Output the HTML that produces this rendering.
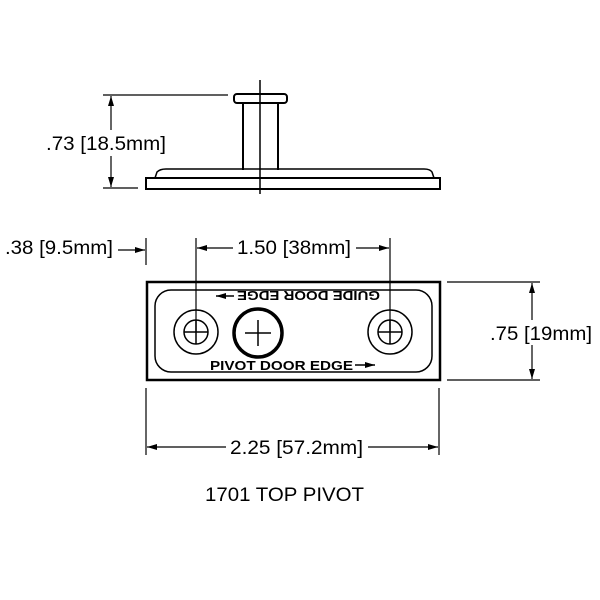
<!DOCTYPE html>
<html><head><style>body{margin:0;background:#fff}svg{display:block}</style></head><body>
<svg width="600" height="600" viewBox="0 0 600 600" xmlns="http://www.w3.org/2000/svg" font-family="Liberation Sans, Arial, sans-serif">
<defs><marker id="a" viewBox="0 0 10 6" refX="10" refY="3" markerWidth="10" markerHeight="6" orient="auto-start-reverse" markerUnits="userSpaceOnUse"><path d="M0,0L10,3L0,6z" fill="#000"/></marker></defs>
<g stroke="#000" fill="none">
<rect x="234" y="94" width="53" height="9" rx="3" stroke-width="2"/>
<line x1="243" y1="103" x2="243" y2="170" stroke-width="2"/>
<line x1="278" y1="103" x2="278" y2="170" stroke-width="2"/>
<path d="M155,178 L157,172 Q160,169 166,169 L424,169 Q430,169 432,172 L434,178" stroke-width="1.5"/>
<rect x="146" y="178" width="294" height="11" stroke-width="2"/>
<line x1="260" y1="80" x2="260" y2="194" stroke-width="1.5"/>
<line x1="103" y1="95" x2="228" y2="95" stroke-width="1.2"/>
<line x1="103" y1="188" x2="138" y2="188" stroke-width="1.2"/>
<line x1="111" y1="96" x2="111" y2="130" stroke-width="1.2" marker-start="url(#a)"/>
<line x1="111" y1="156" x2="111" y2="187" stroke-width="1.2" marker-end="url(#a)"/>
<rect x="147" y="282" width="293" height="98" stroke-width="2.5"/>
<rect x="155" y="290" width="277" height="82" rx="16" stroke-width="1.5"/>
<circle cx="196" cy="332" r="22" stroke-width="1.5"/>
<circle cx="196" cy="332" r="12" stroke-width="1.5"/>
<line x1="184" y1="332" x2="208" y2="332" stroke-width="1.5"/>
<line x1="196" y1="320" x2="196" y2="344" stroke-width="1.5"/>
<circle cx="390" cy="332" r="22" stroke-width="1.5"/>
<circle cx="390" cy="332" r="12" stroke-width="1.5"/>
<line x1="378" y1="332" x2="402" y2="332" stroke-width="1.5"/>
<line x1="390" y1="320" x2="390" y2="344" stroke-width="1.5"/>
<circle cx="258" cy="333" r="24" stroke-width="3.5"/>
<line x1="245" y1="333" x2="271" y2="333" stroke-width="1.5"/>
<line x1="258" y1="320" x2="258" y2="346" stroke-width="1.5"/>
<line x1="216" y1="296" x2="234" y2="296" stroke-width="1.5" marker-start="url(#a)"/>
<line x1="355" y1="365" x2="375" y2="365" stroke-width="1.5" marker-end="url(#a)"/>
<line x1="146" y1="238" x2="146" y2="265" stroke-width="1.2"/>
<line x1="118" y1="250" x2="145" y2="250" stroke-width="1.2" marker-end="url(#a)"/>
<line x1="196" y1="238" x2="196" y2="332" stroke-width="1.2"/>
<line x1="390" y1="238" x2="390" y2="332" stroke-width="1.2"/>
<line x1="197" y1="248" x2="233" y2="248" stroke-width="1.2" marker-start="url(#a)"/>
<line x1="356" y1="248" x2="389" y2="248" stroke-width="1.2" marker-end="url(#a)"/>
<line x1="447" y1="282" x2="540" y2="282" stroke-width="1.2"/>
<line x1="447" y1="380" x2="540" y2="380" stroke-width="1.2"/>
<line x1="532" y1="283" x2="532" y2="320" stroke-width="1.2" marker-start="url(#a)"/>
<line x1="532" y1="345" x2="532" y2="379" stroke-width="1.2" marker-end="url(#a)"/>
<line x1="146" y1="388" x2="146" y2="455" stroke-width="1.2"/>
<line x1="439" y1="388" x2="439" y2="455" stroke-width="1.2"/>
<line x1="147" y1="447" x2="226" y2="447" stroke-width="1.2" marker-start="url(#a)"/>
<line x1="368" y1="447" x2="438" y2="447" stroke-width="1.2" marker-end="url(#a)"/>
</g>
<g fill="#000" font-size="19">
<text x="46" y="150" textLength="120" lengthAdjust="spacingAndGlyphs">.73 [18.5mm]</text>
<text x="5" y="254" textLength="108" lengthAdjust="spacingAndGlyphs">.38 [9.5mm]</text>
<text x="237" y="254" textLength="114" lengthAdjust="spacingAndGlyphs">1.50 [38mm]</text>
<text x="490" y="340" textLength="102" lengthAdjust="spacingAndGlyphs">.75 [19mm]</text>
<text x="230" y="454" textLength="133" lengthAdjust="spacingAndGlyphs">2.25 [57.2mm]</text>
<text x="205" y="501" textLength="159" lengthAdjust="spacingAndGlyphs">1701 TOP PIVOT</text>
<text x="210" y="370" font-size="13" font-weight="bold" textLength="143" lengthAdjust="spacingAndGlyphs">PIVOT DOOR EDGE</text>
<text transform="translate(380,291) rotate(180)" font-size="13" font-weight="bold" textLength="143" lengthAdjust="spacingAndGlyphs">GUIDE DOOR EDGE</text>
</g>
</svg>
</body></html>
